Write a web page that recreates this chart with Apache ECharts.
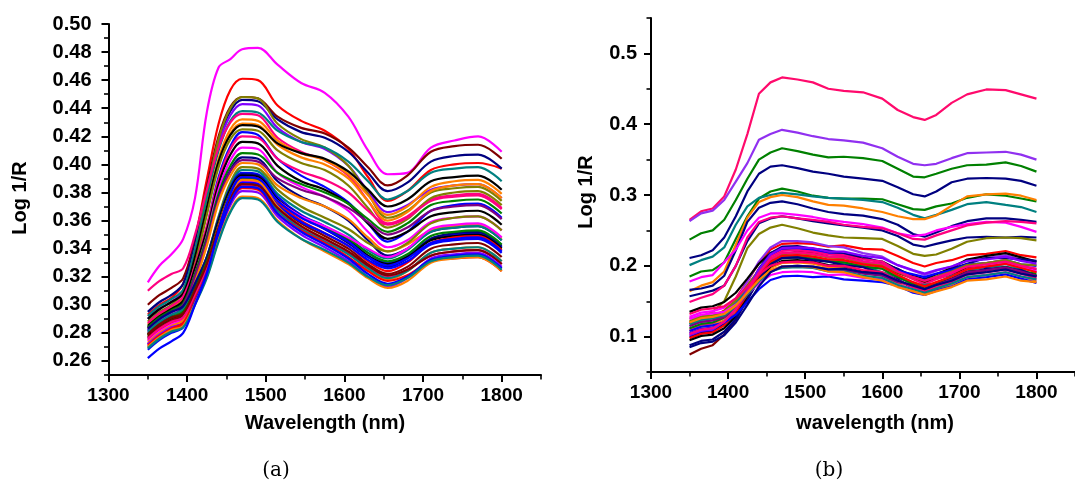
<!DOCTYPE html>
<html>
<head>
<meta charset="utf-8">
<script src="https://cdn.jsdelivr.net/npm/echarts@6/dist/echarts.min.js"></script>
<style>
  html, body { margin: 0; padding: 0; background: #ffffff; }
  #chart { width: 1075px; height: 483px; }
</style>
</head>
<body>
<div id="chart"></div>
<script>
// ---------------- data ----------------
const xTickLabels = [1300, 1400, 1500, 1600, 1700, 1800];
const xMinorTicks = [1300, 1350, 1400, 1450, 1500, 1550, 1600, 1650, 1700, 1750, 1800, 1850];
const yTicksA = [0.26, 0.28, 0.30, 0.32, 0.34, 0.36, 0.38, 0.40, 0.42, 0.44, 0.46, 0.48, 0.50];
const yMinorA = [0.25, 0.26, 0.27, 0.28, 0.29, 0.30, 0.31, 0.32, 0.33, 0.34, 0.35, 0.36, 0.37, 0.38, 0.39, 0.40, 0.41, 0.42, 0.43, 0.44, 0.45, 0.46, 0.47, 0.48, 0.49, 0.50];
const yTicksB = [0.1, 0.2, 0.3, 0.4, 0.5];
const yMinorB = [0.05, 0.10, 0.15, 0.20, 0.25, 0.30, 0.35, 0.40, 0.45, 0.50, 0.55];

// panel (a) wavelengths (nm)
const wlA = [1350,1365,1380,1395,1410,1425,1440,1455,1470,1490,1515,1545,1575,1605,1630,1655,1680,1710,1740,1770,1800];
// panel (a) spectra (Log 1/R)
const spectraA = [
  [.316,.328,.336,.347,.376,.437,.469,.475,.482,.483,.471,.458,.451,.434,.410,.393,.394,.412,.417,.420,.409],
  [.293,.300,.305,.315,.347,.389,.429,.453,.461,.460,.442,.431,.424,.411,.391,.374,.381,.396,.400,.401,.397],
  [.300,.307,.312,.319,.347,.384,.420,.441,.448,.447,.434,.426,.422,.412,.398,.385,.392,.409,.413,.414,.404],
  [.295,.302,.307,.315,.343,.381,.417,.438,.446,.445,.432,.423,.419,.409,.394,.381,.387,.402,.406,.407,.397],
  [.290,.297,.302,.310,.339,.377,.414,.435,.443,.442,.426,.416,.411,.399,.381,.366,.371,.382,.385,.386,.376],
  [.288,.295,.300,.309,.339,.379,.418,.440,.448,.447,.429,.418,.412,.399,.379,.362,.367,.380,.383,.384,.374],
  [.292,.299,.304,.311,.339,.375,.410,.431,.438,.437,.424,.416,.412,.402,.388,.375,.381,.394,.397,.398,.388],
  [.310,.317,.322,.326,.350,.382,.412,.430,.436,.435,.419,.409,.403,.392,.374,.358,.363,.375,.378,.379,.369],
  [.286,.293,.298,.305,.333,.369,.404,.425,.432,.431,.417,.408,.403,.393,.378,.364,.370,.384,.388,.389,.379],
  [.283,.290,.295,.302,.330,.366,.401,.422,.429,.428,.414,.405,.400,.390,.374,.360,.366,.381,.385,.386,.376],
  [.290,.297,.302,.308,.334,.369,.402,.421,.428,.427,.415,.408,.404,.395,.382,.370,.375,.388,.391,.392,.382],
  [.284,.291,.296,.302,.329,.364,.398,.418,.425,.424,.410,.401,.396,.385,.369,.355,.361,.376,.380,.381,.371],
  [.282,.289,.294,.302,.326,.355,.391,.413,.423,.421,.404,.392,.384,.373,.358,.345,.352,.367,.371,.372,.362],
  [.287,.294,.299,.306,.328,.356,.389,.411,.420,.419,.404,.395,.389,.380,.367,.357,.362,.374,.377,.378,.368],
  [.285,.292,.297,.303,.326,.353,.386,.407,.416,.415,.399,.388,.382,.372,.358,.347,.352,.363,.366,.367,.357],
  [.281,.288,.293,.299,.322,.349,.382,.403,.412,.411,.394,.384,.377,.367,.352,.341,.346,.359,.362,.363,.353],
  [.284,.291,.296,.301,.322,.348,.379,.399,.408,.407,.394,.386,.380,.372,.361,.352,.358,.371,.374,.375,.365],
  [.280,.287,.292,.298,.319,.345,.376,.396,.405,.404,.388,.377,.370,.360,.346,.335,.340,.352,.355,.356,.346],
  [.283,.290,.295,.300,.320,.345,.375,.395,.403,.402,.390,.382,.377,.369,.359,.350,.355,.367,.370,.371,.361],
  [.278,.285,.290,.295,.316,.342,.373,.392,.401,.400,.385,.376,.370,.361,.348,.338,.343,.353,.356,.357,.347],
  [.279,.286,.291,.296,.314,.334,.363,.387,.398,.397,.382,.370,.362,.354,.344,.338,.344,.358,.362,.363,.353],
  [.281,.288,.293,.297,.315,.334,.362,.385,.396,.395,.379,.367,.359,.350,.339,.333,.339,.352,.355,.356,.346],
  [.276,.283,.288,.293,.311,.331,.359,.383,.394,.393,.377,.364,.356,.347,.337,.330,.335,.347,.350,.351,.341],
  [.283,.290,.295,.299,.315,.334,.361,.383,.393,.392,.375,.363,.354,.344,.334,.327,.333,.347,.351,.352,.342],
  [.278,.285,.290,.294,.311,.331,.359,.382,.392,.391,.375,.363,.355,.346,.335,.329,.334,.346,.349,.350,.340],
  [.275,.282,.287,.291,.309,.329,.357,.380,.391,.390,.373,.360,.351,.342,.331,.324,.330,.344,.348,.349,.339],
  [.279,.286,.291,.295,.311,.331,.357,.380,.390,.389,.374,.363,.355,.347,.337,.331,.336,.349,.352,.353,.343],
  [.277,.284,.289,.293,.310,.329,.356,.379,.389,.388,.371,.358,.349,.340,.329,.322,.327,.340,.343,.344,.334],
  [.274,.281,.286,.290,.307,.327,.355,.378,.388,.387,.374,.363,.356,.348,.340,.334,.340,.354,.357,.358,.348],
  [.272,.279,.284,.288,.306,.325,.353,.376,.387,.386,.371,.359,.351,.342,.332,.326,.331,.343,.346,.347,.337],
  [.273,.280,.285,.289,.307,.327,.355,.378,.389,.388,.370,.356,.347,.337,.325,.318,.324,.337,.340,.341,.331],
  [.276,.283,.288,.291,.308,.327,.353,.375,.385,.384,.368,.355,.346,.337,.327,.320,.325,.335,.338,.339,.329],
  [.270,.277,.282,.286,.303,.323,.351,.374,.384,.383,.367,.354,.345,.336,.326,.319,.324,.337,.340,.341,.331],
  [.279,.286,.291,.294,.310,.329,.355,.376,.386,.385,.369,.356,.347,.338,.328,.321,.325,.335,.338,.339,.329],
  [.272,.279,.284,.287,.304,.323,.349,.371,.381,.380,.363,.350,.341,.331,.320,.313,.319,.333,.336,.337,.327],
  [.271,.278,.283,.287,.304,.323,.350,.373,.383,.382,.365,.353,.344,.334,.324,.317,.321,.331,.333,.334,.324],
  [.268,.275,.280,.284,.302,.322,.350,.373,.384,.383,.365,.352,.343,.333,.322,.315,.320,.332,.335,.336,.326],
  [.270,.277,.282,.285,.301,.320,.346,.367,.377,.376,.360,.347,.338,.329,.319,.312,.317,.330,.333,.334,.324],
  [.269,.276,.281,.284,.300,.319,.345,.366,.376,.375,.359,.347,.339,.330,.320,.314,.319,.331,.334,.335,.325],
  [.262,.269,.274,.280,.300,.322,.353,.379,.391,.390,.374,.362,.354,.345,.334,.328,.333,.344,.347,.348,.338]
];
const colorsA = ['#FF00FF','#FF0000','#800000','#000080','#8000FF','#808000','#008080','#FF0080','#FF8000','#FF8000',
  '#000000','#808000','#0000FF','#FF0080','#000000','#FF00FF','#008000','#000080','#800080','#FF8000',
  '#808000','#008080','#0000FF','#000080','#000000','#FF0000','#008000','#800000','#FF00FF','#0000FF',
  '#FF8000','#FF0080','#008080','#800000','#8000FF','#FF0000','#0000FF','#FF8000','#008080','#0000FF'];

// panel (b) wavelengths (nm)
const wlB = [1350,1365,1380,1395,1410,1425,1440,1455,1470,1490,1510,1530,1550,1575,1600,1620,1640,1655,1670,1690,1710,1735,1760,1780,1800];
// panel (b) spectra (Log 1/R)
const spectraB = [
  [.265,.277,.281,.298,.336,.386,.443,.459,.466,.463,.459,.450,.447,.445,.436,.420,.410,.406,.413,.430,.442,.449,.448,.442,.436],
  [.263,.274,.278,.293,.319,.345,.378,.386,.392,.388,.383,.379,.377,.374,.366,.354,.344,.342,.344,.352,.359,.360,.361,.357,.350],
  [.237,.246,.250,.265,.293,.323,.350,.360,.366,.362,.357,.353,.354,.352,.348,.337,.326,.325,.330,.337,.342,.343,.346,.341,.333],
  [.211,.215,.222,.240,.270,.305,.330,.340,.342,.338,.333,.330,.326,.323,.320,.311,.301,.298,.305,.318,.323,.324,.323,.320,.313],
  [.185,.192,.194,.205,.238,.270,.295,.305,.309,.305,.299,.296,.295,.295,.294,.287,.280,.279,.284,.288,.296,.301,.299,.295,.291],
  [.201,.208,.213,.226,.258,.284,.296,.300,.303,.301,.298,.296,.295,.293,.290,.282,.272,.267,.272,.279,.287,.290,.286,.283,.276],
  [.164,.172,.177,.192,.230,.268,.290,.297,.300,.297,.291,.286,.285,.281,.276,.270,.266,.266,.271,.285,.298,.301,.302,.299,.293],
  [.166,.168,.172,.186,.222,.262,.282,.289,.291,.287,.281,.276,.273,.271,.266,.258,.245,.241,.247,.256,.263,.267,.267,.265,.262],
  [.178,.184,.187,.205,.223,.250,.268,.274,.274,.272,.269,.265,.262,.259,.254,.246,.242,.244,.250,.255,.259,.262,.261,.255,.248],
  [.157,.161,.165,.172,.200,.235,.260,.267,.270,.267,.263,.260,.257,.254,.250,.242,.230,.227,.231,.236,.240,.241,.240,.241,.240],
  [.149,.155,.160,.172,.200,.240,.262,.268,.270,.267,.265,.262,.258,.255,.253,.246,.238,.237,.243,.250,.257,.261,.263,.262,.260],
  [.126,.128,.135,.150,.185,.225,.245,.254,.258,.253,.247,.243,.240,.239,.238,.228,.217,.214,.216,.224,.234,.239,.240,.239,.236],
  [.120,.126,.128,.137,.154,.178,.204,.223,.231,.232,.231,.227,.229,.224,.223,.214,.204,.199,.204,.208,.215,.217,.221,.215,.212],
  [.115,.121,.123,.133,.151,.178,.206,.226,.235,.235,.233,.228,.226,.218,.213,.201,.193,.187,.193,.199,.208,.211,.215,.209,.205],
  [.135,.141,.143,.149,.162,.182,.203,.218,.224,.225,.223,.218,.217,.210,.206,.195,.186,.181,.188,.197,.209,.214,.218,.212,.206],
  [.100,.106,.108,.119,.138,.167,.196,.218,.227,.228,.224,.222,.217,.213,.204,.196,.183,.181,.184,.196,.203,.211,.211,.209,.207],
  [.105,.111,.113,.123,.141,.167,.195,.215,.224,.225,.222,.217,.215,.206,.201,.193,.188,.184,.189,.194,.202,.204,.208,.202,.200],
  [.075,.083,.088,.103,.124,.155,.186,.206,.216,.220,.218,.213,.212,.205,.201,.190,.182,.177,.182,.188,.197,.199,.203,.197,.195],
  [.110,.116,.118,.127,.144,.168,.194,.213,.221,.222,.220,.216,.215,.209,.206,.192,.181,.174,.181,.189,.200,.204,.208,.199,.191],
  [.128,.134,.136,.141,.154,.173,.193,.208,.214,.215,.213,.208,.207,.200,.196,.184,.175,.169,.176,.184,.195,.199,.203,.197,.193],
  [.118,.124,.126,.132,.147,.168,.190,.206,.213,.214,.210,.208,.203,.200,.191,.185,.174,.173,.175,.186,.192,.199,.199,.195,.186],
  [.122,.128,.130,.136,.151,.172,.194,.210,.217,.218,.216,.212,.211,.204,.201,.191,.184,.179,.185,.192,.201,.204,.208,.202,.201],
  [.112,.118,.120,.127,.142,.164,.187,.204,.211,.212,.210,.206,.205,.199,.196,.184,.175,.169,.175,.182,.191,.194,.198,.192,.189],
  [.108,.114,.116,.123,.137,.158,.181,.197,.204,.205,.203,.198,.197,.190,.186,.175,.166,.161,.167,.174,.184,.187,.191,.185,.179],
  [.098,.104,.106,.116,.133,.159,.186,.206,.214,.215,.213,.209,.208,.202,.199,.187,.177,.171,.177,.185,.195,.199,.203,.197,.191],
  [.095,.101,.103,.112,.129,.154,.180,.199,.207,.208,.206,.201,.200,.193,.189,.179,.172,.167,.173,.181,.191,.194,.198,.192,.186],
  [.088,.094,.096,.107,.125,.152,.181,.202,.211,.212,.208,.206,.201,.198,.189,.181,.168,.166,.169,.181,.188,.196,.196,.194,.185],
  [.108,.114,.116,.120,.131,.149,.167,.180,.185,.186,.184,.185,.181,.179,.177,.172,.162,.159,.165,.171,.181,.184,.188,.182,.176],
  [.125,.131,.133,.135,.145,.160,.175,.187,.191,.192,.191,.187,.188,.183,.181,.173,.168,.164,.169,.176,.184,.187,.191,.185,.181],
  [.115,.121,.123,.128,.141,.159,.179,.193,.199,.200,.199,.195,.194,.189,.186,.177,.172,.167,.173,.181,.191,.194,.198,.192,.186],
  [.102,.108,.110,.121,.139,.166,.195,.216,.225,.226,.225,.220,.220,.214,.211,.201,.194,.189,.194,.199,.207,.209,.213,.207,.203],
  [.132,.138,.140,.143,.154,.170,.188,.200,.205,.206,.205,.200,.200,.194,.191,.179,.170,.164,.170,.177,.188,.191,.195,.189,.183],
  [.118,.124,.126,.130,.142,.160,.178,.192,.197,.198,.197,.192,.192,.186,.183,.173,.167,.162,.168,.175,.184,.187,.191,.185,.181],
  [.104,.110,.112,.121,.139,.164,.190,.210,.218,.219,.217,.213,.212,.206,.203,.192,.184,.179,.184,.191,.199,.202,.206,.200,.196],
  [.120,.126,.128,.132,.144,.162,.180,.194,.199,.200,.198,.192,.191,.184,.179,.170,.164,.159,.164,.170,.179,.181,.185,.179,.177],
  [.085,.091,.093,.102,.120,.145,.171,.191,.199,.200,.199,.195,.196,.191,.189,.179,.172,.167,.173,.179,.188,.191,.195,.189,.185]
];
const colorsB = ['#FF0A6C','#9030F0','#008000','#000080','#008000','#008080','#FF8000','#000080','#FF00FF','#000080',
  '#FF0080','#808000','#FF0000','#9030F0','#000000','#000080','#0000FF','#800000','#FF0080','#FF00FF',
  '#008080','#808000','#008000','#FF8000','#FF0000','#000000','#000080','#0000FF','#FF00FF','#800080','#8000FF',
  '#FF0066','#008080','#FF0080','#FF8000','#000080'];

// ---------------- chart ----------------
const FONT = "'Liberation Sans', Arial, Helvetica, sans-serif";
const chart = echarts.init(document.getElementById('chart'), null, { renderer: 'canvas' });

function majorX(grid) {
  return {
    gridIndex: grid, type: 'value', min: 1300, max: 1850, position: 'bottom',
    axisLine: { show: true, onZero: false, lineStyle: { color: '#000', width: 2 } },
    axisTick: { show: true, customValues: xTickLabels, length: 7, lineStyle: { color: '#000', width: 2 } },
    axisLabel: { show: true, customValues: xTickLabels, margin: 11, color: '#000',
      fontSize: 19, fontWeight: 'bold', fontFamily: FONT, formatter: v => String(Math.round(v)) },
    splitLine: { show: false }
  };
}
function minorX(grid) {
  return {
    gridIndex: grid, type: 'value', min: 1300, max: 1850, position: 'bottom',
    axisLine: { show: false, onZero: false },
    axisTick: { show: true, customValues: xMinorTicks, length: 4.5, lineStyle: { color: '#000', width: 1.6 } },
    axisLabel: { show: false }, splitLine: { show: false }
  };
}
function majorY(grid, min, max, ticks, digits, margin) {
  return {
    gridIndex: grid, type: 'value', min: min, max: max, position: 'left',
    axisLine: { show: true, onZero: false, lineStyle: { color: '#000', width: 2 } },
    axisTick: { show: true, customValues: ticks, length: 7, lineStyle: { color: '#000', width: 2 } },
    axisLabel: { show: true, customValues: ticks, margin: margin, color: '#000',
      fontSize: 20, fontWeight: 'bold', fontFamily: FONT,
      formatter: v => Number(v).toFixed(digits) },
    splitLine: { show: false }
  };
}
function minorY(grid, min, max, ticks) {
  return {
    gridIndex: grid, type: 'value', min: min, max: max, position: 'left',
    axisLine: { show: false, onZero: false },
    axisTick: { show: true, customValues: ticks, length: 4.5, lineStyle: { color: '#000', width: 1.6 } },
    axisLabel: { show: false }, splitLine: { show: false }
  };
}

const series = [];
spectraA.forEach((vals, i) => {
  series.push({
    type: 'line', xAxisIndex: 0, yAxisIndex: 0, showSymbol: false, symbol: 'none',
    smooth: 0.35, silent: true, animation: false,
    lineStyle: { color: colorsA[i], width: 2.2 },
    data: wlA.map((w, k) => [w, vals[k]])
  });
});
spectraB.forEach((vals, i) => {
  series.push({
    type: 'line', xAxisIndex: 2, yAxisIndex: 2, showSymbol: false, symbol: 'none',
    smooth: false, silent: true, animation: false,
    lineStyle: { color: colorsB[i], width: 2.2 },
    data: wlB.map((w, k) => [w, vals[k]])
  });
});

const option = {
  backgroundColor: '#ffffff',
  animation: false,
  grid: [
    { left: 108.5, top: 24, width: 432.5, height: 351 },
    { left: 651, top: 17.9, width: 435.4, height: 354.2 }
  ],
  xAxis: [majorX(0), minorX(0), majorX(1), minorX(1)],
  yAxis: [
    majorY(0, 0.25, 0.50, yTicksA, 2, 17),
    minorY(0, 0.25, 0.50, yMinorA),
    majorY(1, 0.05, 0.55, yTicksB, 1, 14),
    minorY(1, 0.05, 0.55, yMinorB)
  ],
  series: series,
  graphic: [
    { type: 'text', x: 325, y: 423, style: { text: 'Wavelength (nm)', align: 'center', verticalAlign: 'middle',
      fill: '#000', font: "bold 20px " + FONT } },
    { type: 'text', x: 875, y: 423, style: { text: 'wavelength (nm)', align: 'center', verticalAlign: 'middle',
      fill: '#000', font: "bold 20px " + FONT } },
    { type: 'text', x: 20, y: 198, rotation: Math.PI / 2, style: { text: 'Log 1/R', align: 'center', verticalAlign: 'middle',
      fill: '#000', font: "bold 20px " + FONT } },
    { type: 'text', x: 586, y: 192, rotation: Math.PI / 2, style: { text: 'Log 1/R', align: 'center', verticalAlign: 'middle',
      fill: '#000', font: "bold 20px " + FONT } },
    { type: 'text', x: 276, y: 471, style: { text: '(a)', align: 'center', verticalAlign: 'middle',
      fill: '#000', font: "20px 'DejaVu Serif', 'Liberation Serif', serif" } },
    { type: 'text', x: 829, y: 471, style: { text: '(b)', align: 'center', verticalAlign: 'middle',
      fill: '#000', font: "20px 'DejaVu Serif', 'Liberation Serif', serif" } }
  ]
};
chart.setOption(option);
</script>
</body>
</html>
